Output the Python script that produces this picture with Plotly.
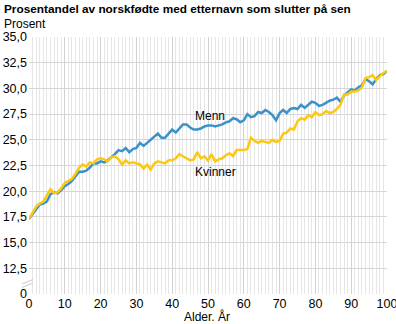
import plotly.graph_objects as go

# Share (%) of Norwegian-born people whose surname ends in "-sen", by age
ages = list(range(0, 101))

menn = [
    17.3, 17.8, 18.3, 18.7, 18.8, 19.0, 19.7, 19.9, 19.8, 20.1,
    20.5, 20.7, 21.0, 21.4, 21.9, 21.9, 22.0, 22.3, 22.7, 22.7,
    22.9, 22.8, 23.0, 23.3, 23.6, 24.0, 23.9, 24.2, 23.8, 24.1,
    24.2, 24.7, 24.4, 24.7, 25.0, 25.3, 25.6, 25.2, 25.2, 25.6,
    26.0, 25.7, 26.1, 26.5, 26.5, 26.2, 26.0, 26.0, 26.1, 26.3,
    26.4, 26.4, 26.3, 26.4, 26.5, 26.7, 26.8, 27.1, 27.0, 26.7,
    26.9, 27.5, 27.2, 27.3, 27.7, 27.6, 27.9, 27.7, 27.4, 26.9,
    27.6, 27.9, 27.6, 28.0, 28.1, 28.0, 28.4, 28.1, 28.4, 28.7,
    28.6, 28.3, 28.4, 28.6, 28.8, 28.9, 29.1, 28.7, 29.3, 29.6,
    29.9, 29.8, 30.1, 30.3, 30.9, 30.7, 30.4, 30.9, 31.3, 31.4,
    31.7,
]

kvinner = [
    17.3, 17.9, 18.5, 18.8, 19.0, 19.6, 20.2, 19.8, 19.9, 20.3,
    20.8, 21.0, 21.2, 21.7, 22.3, 22.6, 22.4, 22.8, 22.7, 23.1,
    23.2, 23.1, 22.9, 23.3, 23.4, 23.1, 22.6, 23.0, 22.7, 22.8,
    22.7, 22.6, 22.2, 22.6, 22.1, 22.7, 22.9, 22.8, 22.7, 23.0,
    23.0, 23.2, 23.6, 23.4, 23.2, 23.0, 23.1, 23.8, 23.2, 23.4,
    23.0, 23.6, 22.9, 23.1, 23.2, 23.5, 23.7, 23.4, 24.0, 24.0,
    24.0, 24.1, 25.2, 24.9, 24.7, 24.9, 24.8, 24.7, 25.0, 24.8,
    24.9, 25.6, 25.7, 26.1, 26.0, 26.8, 27.1, 26.95, 27.4, 27.2,
    27.7, 27.4, 27.5, 27.8, 27.6, 27.7, 28.0, 28.4, 29.4, 29.4,
    29.7, 29.7, 29.8, 30.1, 31.0, 31.1, 31.3, 30.8, 31.2, 31.5,
    31.7,
]

# The value axis is broken: the bottom gridline stands for 0,
# the rest of the scale runs from 12.5 to 35.
y_tick_vals = [10, 12.5, 15, 17.5, 20, 22.5, 25, 27.5, 30, 32.5, 35]
y_tick_text = ["0", "12,5", "15,0", "17,5", "20,0", "22,5", "25,0",
               "27,5", "30,0", "32,5", "35,0"]
x_tick_vals = [0, 10, 20, 30, 40, 50, 60, 70, 80, 90, 100]

BLUE = "#3a92c9"
YELLOW = "#fcc811"
FONT = "Arial, Liberation Sans, sans-serif"

fig = go.Figure()
fig.add_trace(go.Scatter(x=ages, y=menn, mode="lines", name="Menn",
                         line=dict(color=BLUE, width=2.5)))
fig.add_trace(go.Scatter(x=ages, y=kvinner, mode="lines", name="Kvinner",
                         line=dict(color=YELLOW, width=2.5)))

W, H = 396, 324
ML, MR, MT, MB = 29, 9, 37, 30
pw, ph = W - ML - MR, H - MT - MB


def px_x(px):
    return (px - ML) / pw


def px_y(py):
    return (H - MB - py) / ph


shapes = []
# axis-break marks between 0 and 12,5
for dy in (0, 3.5):
    shapes.append(dict(type="line", xref="paper", yref="paper",
                       x0=px_x(22), y0=px_y(284 + dy),
                       x1=px_x(33), y1=px_y(279.5 + dy),
                       line=dict(color="#c8c8c8", width=1)))

fig.update_layout(
    width=W, height=H,
    margin=dict(l=ML, r=MR, t=MT, b=MB, pad=0, autoexpand=False),
    paper_bgcolor="white", plot_bgcolor="white",
    showlegend=False,
    font=dict(family=FONT, size=12, color="#000000"),
    shapes=shapes,
    annotations=[
        dict(text="<b>Prosentandel av norskfødte med etternavn som slutter på sen</b>",
             xref="paper", yref="paper", x=px_x(2), y=px_y(9),
             xanchor="left", yanchor="middle", showarrow=False,
             font=dict(size=11.8, family=FONT, color="#000000")),
        dict(text="Prosent", xref="paper", yref="paper",
             x=px_x(2), y=px_y(24.5), xanchor="left", yanchor="middle",
             showarrow=False, font=dict(size=12, family=FONT)),
        dict(text="Menn", x=45.8, y=27.3, xanchor="left", yanchor="middle",
             showarrow=False, font=dict(size=12, family=FONT)),
        dict(text="Kvinner", x=45.8, y=21.9, xanchor="left", yanchor="middle",
             showarrow=False, font=dict(size=12, family=FONT)),
        dict(text="Alder. År", xref="paper", yref="paper",
             x=px_x(207), y=px_y(316), xanchor="center", yanchor="middle",
             showarrow=False, font=dict(size=12, family=FONT)),
    ],
    xaxis=dict(
        range=[0, 100], tickvals=x_tick_vals, ticks="",
        showgrid=True, gridcolor="#d2d2d2", gridwidth=1,
        minor=dict(dtick=1, showgrid=True, gridcolor="#e6e6e6", gridwidth=1),
        zeroline=False, showline=False, automargin=False,
        tickfont=dict(size=12.5, family=FONT),
        ticklabelstandoff=0, ticklabeloverflow="allow",
        fixedrange=True,
    ),
    yaxis=dict(
        range=[10, 35], tickvals=y_tick_vals, ticktext=y_tick_text, ticks="",
        showgrid=True, gridcolor="#d6d6d6", gridwidth=1,
        zeroline=False, showline=False, automargin=False,
        tickfont=dict(size=12.5, family=FONT),
        ticklabelstandoff=1, ticklabeloverflow="allow",
        fixedrange=True,
    ),
)

fig.write_html("out.html")
